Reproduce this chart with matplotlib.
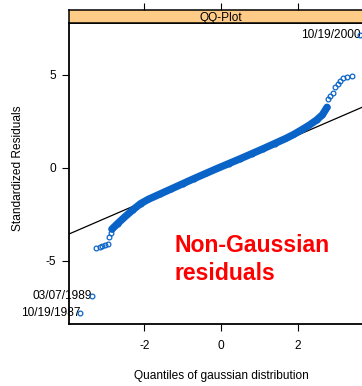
import matplotlib
matplotlib.use("Agg")
import matplotlib.pyplot as plt

plt.rcParams['font.family'] = ['Liberation Sans', 'DejaVu Sans']
plt.rcParams['axes.unicode_minus'] = False

# ---- data ----
# lower tail (individual points)
low_q = [-3.68, -3.38, -3.26, -3.17, -3.10, -3.03, -2.96, -2.92, -2.88]
low_r = [-7.81, -6.90, -4.30, -4.25, -4.21, -4.16, -4.10, -3.74, -3.53]
# dense central band
band_q = [-2.85, -2.70, -2.50, -2.30, -2.10, -1.90, -1.60, -1.30, -1.00, -0.70,
          -0.40, -0.10, 0.20, 0.50, 0.80, 1.10, 1.40, 1.70, 1.90, 2.10,
          2.30, 2.50, 2.65, 2.77]
band_r = [-3.30, -3.00, -2.62, -2.26, -1.93, -1.70, -1.42, -1.14, -0.86, -0.58,
          -0.31, -0.04, 0.22, 0.48, 0.75, 1.02, 1.30, 1.58, 1.79, 2.03,
          2.28, 2.57, 2.85, 3.25]
# upper tail (individual points)
up_q = [2.79, 2.85, 2.92, 2.99, 3.05, 3.11, 3.19, 3.28, 3.41, 3.63]
up_r = [3.68, 3.87, 4.00, 4.32, 4.50, 4.68, 4.81, 4.86, 4.95, 7.13]
# reference line
ref_slope = 0.89
ref_intercept = -0.03
# labels
labels = ["10/19/1987", "03/07/1989", "10/19/2000"]
xticks = [-2, 0, 2]
yticks = [-5, 0, 5]

W, H = 362, 386
fig = plt.figure(figsize=(W / 100, H / 100), dpi=100)

def fx(px):
    return px / W

def fy(py):
    return 1 - py / H

left, right, top, bottom = 69, 373, 23, 324
ax = fig.add_axes([fx(left), fy(bottom), fx(right) - fx(left), fy(top) - fy(bottom)])
sx = fig.add_axes([fx(left), fy(top), fx(right) - fx(left), fy(10) - fy(top)], sharex=ax)

blue = '#0a64c8'
mk = dict(marker='o', mfc='none', mec=blue, mew=0.9, ms=3.4, ls='none')

xl = (-3.97, 3.97)
ax.plot([xl[0], xl[1]], [ref_intercept + ref_slope * xl[0], ref_intercept + ref_slope * xl[1]],
        color='black', lw=0.9, zorder=1)
ax.plot(band_q, band_r, color=blue, lw=5.3, solid_capstyle='round', zorder=2)
ax.plot(band_q, band_r, **mk, zorder=3)
ax.plot(low_q, low_r, **mk, zorder=3)
ax.plot(up_q, up_r, **mk, zorder=3)

fs = 8.6
ax.text(low_q[0] + 0.02, low_r[0], labels[0], ha='right', va='center', fontsize=fs, zorder=2)
ax.text(low_q[1] + 0.02, low_r[1], labels[1], ha='right', va='center', fontsize=fs, zorder=2)
ax.text(up_q[-1] + 0.02, up_r[-1], labels[2], ha='right', va='center', fontsize=fs, zorder=2)

ax.text(-1.22, -4.52, "Non-Gaussian", color='red', fontsize=16.6, fontweight='bold',
        ha='left', va='baseline')
ax.text(-1.22, -6.05, "residuals", color='red', fontsize=16.6, fontweight='bold',
        ha='left', va='baseline')

ax.set_xlim(*xl)
ax.set_ylim(-8.40, 7.78)
ax.set_xticks(xticks)
ax.set_yticks(yticks)
ax.tick_params(axis='both', direction='out', length=5, width=0.8, labelsize=fs, color='black')
ax.tick_params(axis='x', pad=6.5)
ax.tick_params(axis='y', pad=4)
ax.spines['right'].set_visible(False)
for s in ['left', 'bottom', 'top']:
    ax.spines[s].set_linewidth(1.3)

sx.set_facecolor('#ffcc88')
sx.set_yticks([])
sx.tick_params(axis='x', which='both', bottom=False, labelbottom=False, top=True,
               labeltop=False, direction='out', length=5, width=0.8)
for s in ['left', 'top', 'bottom']:
    sx.spines[s].set_linewidth(1.1)
sx.spines['right'].set_visible(False)
sx.text(0.5, 0.5, "QQ-Plot", transform=sx.transAxes, ha='center', va='center_baseline', fontsize=fs)

fig.text(fx(18), fy(168), "Standardized Residuals", rotation=90, ha='center', va='center', fontsize=fs)
fig.text(fx(221), fy(376), "Quantiles of gaussian distribution", ha='center', va='center', fontsize=fs)

fig.savefig("out.png", dpi=100)
